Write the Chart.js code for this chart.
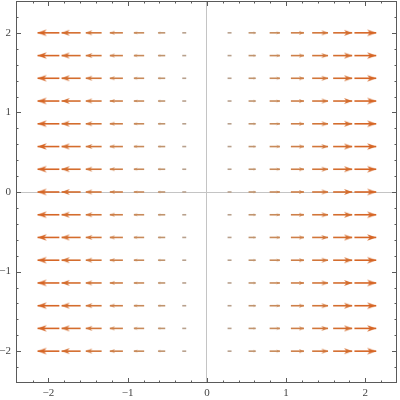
<!DOCTYPE html>
<html>
<head>
<meta charset="utf-8">
<script src="https://cdn.jsdelivr.net/npm/chart.js@4.4.1/dist/chart.umd.min.js"></script>
<style>
  html, body { margin: 0; padding: 0; background: #fff; }
  #wrap { width: 400px; height: 400px; }
</style>
</head>
<body>
<div id="wrap"><canvas id="field"></canvas></div>
<script>
// sample grid of the vector field (15 x 15)
const gridX = [-2, -1.714, -1.429, -1.143, -0.857, -0.571, -0.286, 0, 0.286, 0.571, 0.857, 1.143, 1.429, 1.714, 2];
const gridY = [2, 1.714, 1.429, 1.143, 0.857, 0.571, 0.286, 0, -0.286, -0.571, -0.857, -1.143, -1.429, -1.714, -2];
// horizontal component of the field per column (vertical component is 0)
const fieldX = [-2, -1.714, -1.429, -1.143, -0.857, -0.571, -0.286, 0, 0.286, 0.571, 0.857, 1.143, 1.429, 1.714, 2];
// drawn arrow length per column, in axis units
const arrowLen = [0.275, 0.24, 0.2, 0.165, 0.13, 0.09, 0.05, 0, 0.05, 0.09, 0.13, 0.165, 0.2, 0.24, 0.275];
const tickLabels = [-2, -1, 0, 1, 2];
const minorTicks = [-2.2, -1.8, -1.6, -1.4, -1.2, -0.8, -0.6, -0.4, -0.2, 0.2, 0.4, 0.6, 0.8, 1.2, 1.4, 1.6, 1.8, 2.2];

// style per magnitude step (0 .. 7): colour and arrowhead size in px [length, width]
const magColors = ['#999', '#b8a08c', '#c0946e', '#c88a5a', '#ce7f48', '#d2763a', '#d46d2e', '#d66626'];
const headPx = [[0, 0], [0, 0], [2.4, 2.4], [3.6, 3.2], [5, 4], [6.5, 5], [8, 6], [9, 6.5]];

function makeHead(len, wid, color) {
  // tip sits at the centre of the canvas, head drawn pointing right
  const c = document.createElement('canvas');
  c.width = Math.ceil(len * 2) + 2;
  c.height = Math.ceil(wid) + 2;
  const g = c.getContext('2d');
  const cx = c.width / 2, cy = c.height / 2;
  g.fillStyle = color;
  g.beginPath();
  g.moveTo(cx, cy);
  g.lineTo(cx - len, cy - wid / 2);
  g.lineTo(cx - len * 0.72, cy);
  g.lineTo(cx - len, cy + wid / 2);
  g.closePath();
  g.fill();
  return c;
}

const datasets = [];
gridX.forEach((x, i) => {
  if (arrowLen[i] === 0) return;
  const dir = fieldX[i] > 0 ? 1 : -1;
  const mag = Math.round(Math.abs(fieldX[i]) / 0.2857);
  const color = magColors[mag];
  const hp = headPx[mag];
  const head = hp[0] > 0 ? makeHead(hp[0], hp[1], color) : 'circle';
  gridY.forEach(y => {
    datasets.push({
      data: [
        { x: x - dir * arrowLen[i] / 2, y: y },
        { x: x + dir * arrowLen[i] / 2, y: y }
      ],
      showLine: true,
      borderColor: color,
      backgroundColor: color,
      borderWidth: 1.6,
      pointRadius: [0, hp[0] > 0 ? 2 : 0],
      pointStyle: ['circle', head],
      pointRotation: [0, dir > 0 ? 0 : 180]
    });
  });
});

// frame with inward ticks on all four sides
const frameTicks = {
  id: 'frameTicks',
  afterDraw(chart) {
    const { ctx, chartArea: a, scales } = chart;
    ctx.save();
    ctx.strokeStyle = '#5a5a5a';
    ctx.lineWidth = 1;
    ctx.strokeRect(Math.round(a.left) + 0.5, Math.round(a.top) + 0.5, Math.round(a.right - a.left) - 1, Math.round(a.bottom - a.top) - 1);
    const mark = (vals, size) => {
      vals.forEach(v => {
        const px = Math.round(scales.x.getPixelForValue(v)) + 0.5;
        const py = Math.round(scales.y.getPixelForValue(v)) + 0.5;
        ctx.beginPath();
        ctx.moveTo(px, a.bottom); ctx.lineTo(px, a.bottom - size);
        ctx.moveTo(px, a.top); ctx.lineTo(px, a.top + size);
        ctx.moveTo(a.left, py); ctx.lineTo(a.left + size, py);
        ctx.moveTo(a.right, py); ctx.lineTo(a.right - size, py);
        ctx.stroke();
      });
    };
    mark(tickLabels, 5);
    mark(minorTicks, 2.5);
    ctx.restore();
  }
};

const axisFont = { family: '"Liberation Serif", "DejaVu Serif", serif', size: 11 };
const zeroLine = c => (c.tick && c.tick.value === 0 ? '#c4c4c4' : 'rgba(0,0,0,0)');
const fmt = v => String(v).replace('-', '\u2212');

new Chart(document.getElementById('field'), {
  type: 'scatter',
  data: { datasets: datasets },
  options: {
    responsive: true,
    maintainAspectRatio: false,
    animation: false,
    events: [],
    layout: { autoPadding: false, padding: { top: 1, right: 3, left: 0, bottom: 0 } },
    plugins: { legend: { display: false }, tooltip: { enabled: false } },
    scales: {
      x: {
        type: 'linear',
        min: -2.41,
        max: 2.4,
        afterBuildTicks: axis => { axis.ticks = tickLabels.map(v => ({ value: v })); },
        afterFit: scale => { scale.height = 17; scale.paddingLeft = 0; scale.paddingRight = 0; },
        grid: { drawTicks: false, color: zeroLine, lineWidth: 1 },
        border: { display: false },
        ticks: { callback: fmt, color: '#444', font: axisFont, padding: 4, maxRotation: 0, autoSkip: false }
      },
      y: {
        type: 'linear',
        min: -2.4,
        max: 2.4,
        afterBuildTicks: axis => { axis.ticks = tickLabels.map(v => ({ value: v })); },
        afterFit: scale => { scale.width = 16; scale.paddingTop = 0; scale.paddingBottom = 0; },
        grid: { drawTicks: false, color: zeroLine, lineWidth: 1 },
        border: { display: false },
        ticks: { callback: fmt, color: '#444', font: axisFont, padding: 5, autoSkip: false }
      }
    }
  },
  plugins: [frameTicks]
});
</script>
</body>
</html>
